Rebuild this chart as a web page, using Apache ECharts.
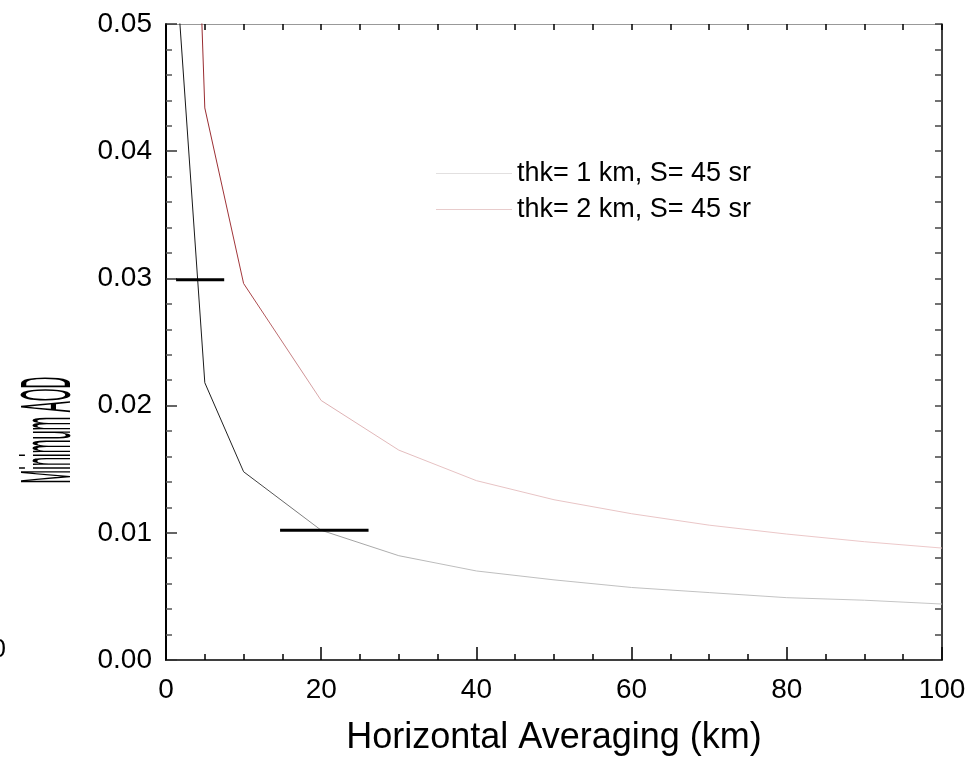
<!DOCTYPE html>
<html>
<head>
<meta charset="utf-8">
<style>
    html, body { margin: 0; padding: 0; background: #fff; }
    #mainChart { width: 972px; height: 758px; }
</style>
<script src="https://cdn.jsdelivr.net/npm/echarts@6/dist/echarts.min.js"></script>
</head>
<body>
<div id="mainChart"></div>
<script>
// horizontal averaging (km)
const xKm = [1, 5, 10, 20, 30, 40, 50, 60, 70, 80, 90, 100];
// minimum AOD
const aodThk1 = [0.057, 0.0218, 0.0148, 0.0102, 0.0082, 0.0070, 0.0063, 0.0057, 0.0053, 0.0049, 0.0047, 0.0044];
const aodThk2 = [0.114, 0.0434, 0.0296, 0.0204, 0.0165, 0.0141, 0.0126, 0.0115, 0.0106, 0.0099, 0.0093, 0.0088];
// the two thick horizontal bars
const barA = [[1.3, 0.0299], [7.5, 0.0299]];
const barB = [[14.7, 0.0102], [26.1, 0.0102]];
const seriesNames = ['thk= 1 km, S= 45 sr', 'thk= 2 km, S= 45 sr'];

const fontName = 'Liberation Sans, Arial, sans-serif';

let myChart;

function initChart(divId) {
    if (myChart != null && myChart != undefined) {
        myChart.dispose();
    }
    myChart = echarts.init(document.getElementById(divId));
    myChart.setOption(getMyOption());
}

function pairs(xs, ys) {
    const out = [];
    for (let i = 0; i < xs.length; i++) {
        out.push([xs[i], ys[i]]);
    }
    return out;
}

function fade(stops) {
    // dark on the steep part, pale on the flat tail (like the original hairlines)
    return new echarts.graphic.LinearGradient(166, 0, 942, 0, stops, true);
}

function getMyOption() {
    const option = {
        animation: false,
        backgroundColor: '#fff',
        textStyle: { fontFamily: fontName },
        grid: { left: 166, right: 30, top: 24, bottom: 98, outerBoundsMode: 'none' },
        legend: {
            orient: 'vertical',
            left: 431,
            top: 155,
            icon: 'rect',
            itemWidth: 76,
            itemHeight: 1,
            itemGap: 9,
            textStyle: { fontSize: 27, color: '#000', fontFamily: fontName },
            data: [
                { name: seriesNames[0], itemStyle: { color: '#e2e0e0' } },
                { name: seriesNames[1], itemStyle: { color: '#e8cccc' } }
            ]
        },
        xAxis: [
            {
                type: 'value',
                min: 0,
                max: 100,
                interval: 20,
                name: 'Horizontal Averaging (km)',
                nameLocation: 'middle',
                nameGap: 60,
                nameTextStyle: { fontSize: 36, color: '#000', fontFamily: fontName },
                axisLine: { onZero: false, lineStyle: { color: '#000', width: 1.5 } },
                axisTick: { inside: true, length: 13, lineStyle: { color: '#000', width: 1.5 } },
                minorTick: { show: true, splitNumber: 4, length: 6, lineStyle: { color: '#000', width: 1.5 } },
                axisLabel: { fontSize: 28, color: '#000', margin: 16, fontFamily: fontName },
                splitLine: { show: false }
            },
            {
                type: 'value',
                position: 'top',
                min: 0,
                max: 100,
                interval: 5,
                axisLine: { show: true, onZero: false, lineStyle: { color: '#999', width: 1 } },
                axisTick: { inside: true, length: 6, lineStyle: { color: '#000', width: 1.5 } },
                axisLabel: { show: false },
                splitLine: { show: false }
            }
        ],
        yAxis: [
            {
                type: 'value',
                min: 0,
                max: 0.05,
                interval: 0.01,
                axisLine: { show: true, onZero: false, lineStyle: { color: '#000', width: 2 } },
                axisTick: { inside: true, length: 11, lineStyle: { color: '#333', width: 1.5 } },
                minorTick: { show: true, splitNumber: 5, length: 6, lineStyle: { color: '#555', width: 1.5 } },
                axisLabel: {
                    fontSize: 28,
                    color: '#000',
                    margin: 14,
                    fontFamily: fontName,
                    formatter: function (v) { return v.toFixed(2); }
                },
                splitLine: { show: false }
            },
            {
                type: 'value',
                position: 'right',
                min: 0,
                max: 0.05,
                interval: 0.002,
                axisLine: { show: true, onZero: false, lineStyle: { color: '#000', width: 1.5 } },
                axisTick: { inside: true, length: 7, lineStyle: { color: '#444', width: 1.5 } },
                axisLabel: { show: false },
                splitLine: { show: false }
            }
        ],
        graphic: [
            {
                type: 'text',
                x: 51,
                y: 430,
                rotation: Math.PI / 2,
                scaleX: 0.235,
                style: {
                    text: 'Minimum AOD',
                    fontSize: 70,
                    fontFamily: fontName,
                    fill: '#000',
                    align: 'center',
                    verticalAlign: 'middle'
                }
            },
            {
                type: 'text',
                x: 6,
                y: 650,
                style: {
                    text: '0',
                    fontSize: 26,
                    fontFamily: fontName,
                    fill: '#000',
                    align: 'right',
                    verticalAlign: 'middle'
                }
            }
        ],
        series: [
            {
                name: seriesNames[0],
                type: 'line',
                data: pairs(xKm, aodThk1),
                symbol: 'none',
                clip: true,
                lineStyle: {
                    width: 1,
                    color: fade([
                        { offset: 0, color: '#111' },
                        { offset: 0.09, color: '#222' },
                        { offset: 0.2, color: '#9a9a9a' },
                        { offset: 0.35, color: '#bdbdbd' },
                        { offset: 1, color: '#c6c6c6' }
                    ])
                }
            },
            {
                name: seriesNames[1],
                type: 'line',
                data: pairs(xKm, aodThk2),
                symbol: 'none',
                clip: true,
                lineStyle: {
                    width: 1,
                    color: fade([
                        { offset: 0, color: '#8e1f24' },
                        { offset: 0.1, color: '#a3383c' },
                        { offset: 0.2, color: '#dcaeb0' },
                        { offset: 0.35, color: '#e6c2c3' },
                        { offset: 1, color: '#edc9ca' }
                    ])
                }
            },
            {
                name: 'barA',
                type: 'line',
                data: barA,
                symbol: 'none',
                lineStyle: { width: 3, color: '#000' },
                z: 5
            },
            {
                name: 'barB',
                type: 'line',
                data: barB,
                symbol: 'none',
                lineStyle: { width: 3, color: '#000' },
                z: 5
            }
        ]
    };
    return option;
}

initChart('mainChart');
</script>
</body>
</html>
